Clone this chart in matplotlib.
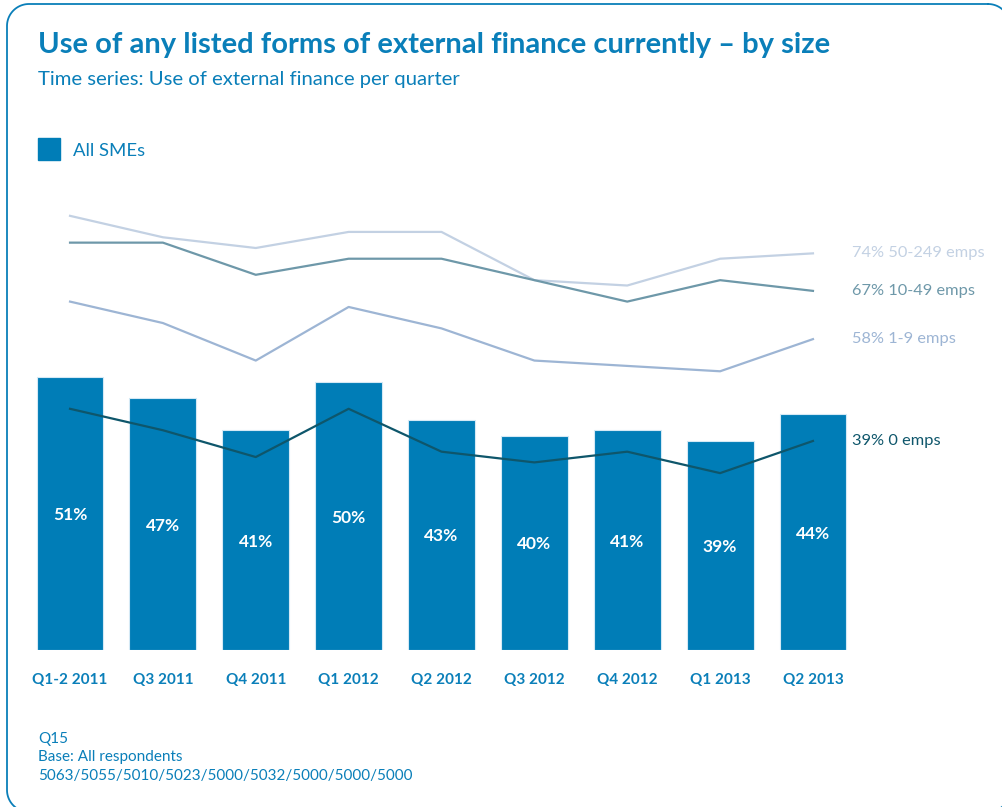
import matplotlib
matplotlib.use("Agg")
import numpy as np
import matplotlib.pyplot as plt
from matplotlib.lines import Line2D

plt.rcParams['font.family'] = ['Lato', 'DejaVu Sans']

quarters = ["Q1-2 2011", "Q3 2011", "Q4 2011", "Q1 2012", "Q2 2012",
            "Q3 2012", "Q4 2012", "Q1 2013", "Q2 2013"]
all_smes = [51, 47, 41, 50, 43, 40, 41, 39, 44]
emps_0 = [45, 41, 36, 45, 37, 35, 37, 33, 39]
emps_1_9 = [65, 61, 54, 64, 60, 54, 53, 52, 58]
emps_10_49 = [76, 76, 70, 73, 73, 69, 65, 69, 67]
emps_50_249 = [81, 77, 75, 78, 78, 69, 68, 73, 74]

BLUE = "#0a7fb9"
BAR = "#007db7"
series = [
    (emps_50_249, "50-249 emps", "#c3d1e3"),
    (emps_10_49, "10-49 emps", "#6e98a9"),
    (emps_1_9, "1-9 emps", "#9db5d4"),
    (emps_0, "0 emps", "#0e566b"),
]

W, H = 1002, 807
DPI = 100
fig = plt.figure(figsize=(W / DPI, H / DPI), dpi=DPI)


def rounded_outline(x0, y0, x1, y1, r, n=24):
    """Closed outline of a rounded rectangle, in pixels measured from the top-left."""
    pts = []
    corners = [(x1 - r, y0 + r, -90, 0), (x1 - r, y1 - r, 0, 90),
               (x0 + r, y1 - r, 90, 180), (x0 + r, y0 + r, 180, 270)]
    for cx, cy, a0, a1 in corners:
        t = np.radians(np.linspace(a0, a1, n))
        pts.extend(zip(cx + r * np.cos(t), cy + r * np.sin(t)))
    pts.append(pts[0])
    px, py = np.array(pts).T
    return px / DPI, (H - py) / DPI


# rounded frame around the panel (runs past the right and bottom edges)
fxs, fys = rounded_outline(7, 4, 1010, 812, 22)
fig.add_artist(Line2D(fxs, fys, transform=fig.dpi_scale_trans,
                      color=BLUE, linewidth=1.3))

ax = fig.add_axes([23.6 / W, (H - 650) / H, 835.8 / W, 536 / H])
ax.set_xlim(-0.5, 8.5)
ax.set_ylim(0, 100)
ax.axis("off")

x = list(range(len(quarters)))
ax.bar(x, all_smes, width=0.72, color=BAR, edgecolor="#d4e9f5",
       linewidth=0.8, zorder=1)
for xi, v in zip(x, all_smes):
    ax.text(xi, v / 2 - 0.3, f"{v}%", ha="center", va="center", color="white",
            fontsize=12.5, fontweight="bold", zorder=3)

for vals, name, col in series:
    ax.plot(x, vals, color=col, linewidth=1.6, zorder=2)
    ax.annotate(f"{vals[-1]}% {name}", xy=(x[-1], vals[-1]),
                xytext=(28, 0), textcoords="offset points",
                ha="left", va="center", color=col, fontsize=11.8)

for xi, q in zip(x, quarters):
    ax.text(xi, -5.6, q, ha="center", va="center", color=BLUE,
            fontsize=11, fontweight="bold")

fig.text(38 / W, 1 - 45 / H,
         "Use of any listed forms of external finance currently \u2013 by size",
         ha="left", va="center", color=BLUE, fontsize=21, fontweight="bold")
fig.text(38 / W, 1 - 79 / H, "Time series: Use of external finance per quarter",
         ha="left", va="center", color=BLUE, fontsize=14.6)

fig.patches.append(plt.Rectangle((38 / W, 1 - 160 / H), 22 / W, 22 / H,
                                 transform=fig.transFigure, color=BAR))
fig.text(73 / W, 1 - 151 / H, "All SMEs", ha="left", va="center",
         color=BLUE, fontsize=13.3)

footer = ["Q15", "Base: All respondents",
          "5063/5055/5010/5023/5000/5032/5000/5000/5000"]
for i, line in enumerate(footer):
    fig.text(38 / W, 1 - (739 + 18.5 * i) / H, line, ha="left", va="center",
             color=BLUE, fontsize=11)

fig.savefig("out.png", dpi=DPI)
